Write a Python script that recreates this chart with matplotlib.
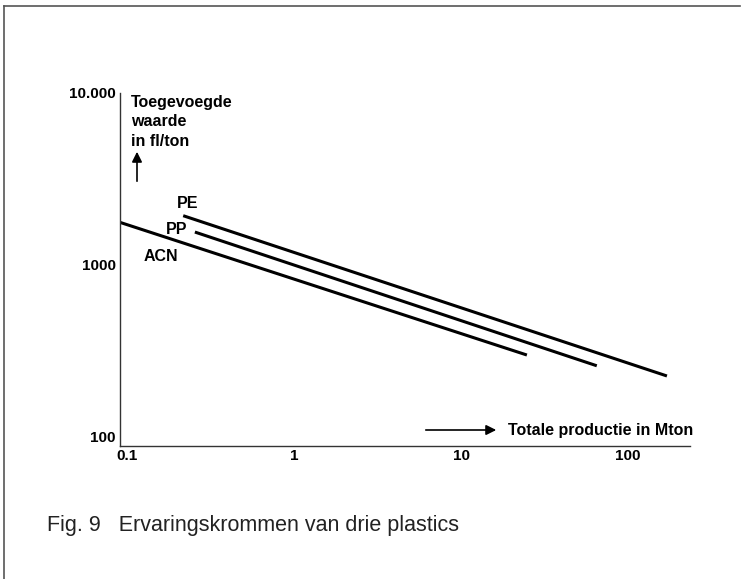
import matplotlib
matplotlib.use("Agg")
import matplotlib.pyplot as plt
from matplotlib.lines import Line2D
from matplotlib.patches import FancyArrowPatch
from matplotlib.ticker import FixedLocator, FixedFormatter, NullLocator

plt.rcParams['font.family'] = ['Liberation Sans', 'DejaVu Sans']

# Data (log-log experience curves)
series_names = ["PE", "PP", "ACN"]
pe_x = [0.217, 171]
pe_y = [1930, 225]
pp_x = [0.255, 65]
pp_y = [1550, 258]
acn_x = [0.0908, 24.8]
acn_y = [1765, 298]

x_ticks = [0.1, 1, 10, 100]
x_tick_labels = ["0.1", "1", "10", "100"]
y_ticks = [100, 1000, 10000]
y_tick_labels = ["100", "1000", "10.000"]

W, H = 747, 579
fig = plt.figure(figsize=(W / 100, H / 100), dpi=100)

def fx(px):
    return px / W

def fy(py):
    return 1 - py / H

ax = fig.add_axes([fx(120), fy(446), fx(690) - fx(120), fy(93) - fy(446)])
ax.set_xscale('log')
ax.set_yscale('log')
ax.set_xlim(0.0908, 235)
ax.set_ylim(88, 10000)

lw = 2.2
ax.plot(pe_x, pe_y, color='black', lw=lw, solid_capstyle='butt')
ax.plot(pp_x, pp_y, color='black', lw=lw, solid_capstyle='butt')
ax.plot(acn_x, acn_y, color='black', lw=lw, solid_capstyle='butt')

for s in ['top', 'right']:
    ax.spines[s].set_visible(False)
for s in ['left', 'bottom']:
    ax.spines[s].set_color('#333333')
    ax.spines[s].set_linewidth(1.0)

ax.xaxis.set_major_locator(FixedLocator(x_ticks))
ax.xaxis.set_major_formatter(FixedFormatter(x_tick_labels))
ax.xaxis.set_minor_locator(NullLocator())
ax.yaxis.set_major_locator(FixedLocator(y_ticks))
ax.yaxis.set_major_formatter(FixedFormatter(y_tick_labels))
ax.yaxis.set_minor_locator(NullLocator())
ax.tick_params(axis='both', length=0, labelsize=11)
ax.tick_params(axis='x', pad=2)
ax.tick_params(axis='y', pad=3)
for lab in ax.get_xticklabels() + ax.get_yticklabels():
    lab.set_fontweight('bold')

fs = 11.5
# Series labels
fig.text(fx(188), fy(203), "PE", ha='center', va='center', fontsize=fs, fontweight='bold')
fig.text(fx(177), fy(230), "PP", ha='center', va='center', fontsize=fs, fontweight='bold')
fig.text(fx(161), fy(257), "ACN", ha='center', va='center', fontsize=fs, fontweight='bold')

# Y axis label with arrow
fig.text(fx(131), fy(122), "Toegevoegde\nwaarde\nin fl/ton", ha='left', va='center',
         fontsize=fs, fontweight='bold', linespacing=1.4)
fig.add_artist(FancyArrowPatch(
    (fx(137), fy(184)), (fx(137), fy(149)), transform=fig.transFigure,
    arrowstyle='-|>,head_length=4,head_width=2', color='black', lw=1.2,
    mutation_scale=1.5))

# X axis label with arrow
fig.text(fx(508), fy(430), "Totale productie in Mton", ha='left', va='center',
         fontsize=fs, fontweight='bold')
fig.add_artist(FancyArrowPatch(
    (fx(423), fy(430)), (fx(499), fy(430)), transform=fig.transFigure,
    arrowstyle='-|>,head_length=4,head_width=2', color='black', lw=1.2,
    mutation_scale=1.5))

# Caption
fig.text(fx(47), fy(526), "Fig. 9   Ervaringskrommen van drie plastics", ha='left', va='center',
         fontsize=15.5, color='#222222')

# Frame (left and top border)
fig.add_artist(Line2D([fx(4), fx(4)], [fy(6), fy(579)], transform=fig.transFigure, color='#555555', lw=1.2))
fig.add_artist(Line2D([fx(4), fx(740)], [fy(6), fy(6)], transform=fig.transFigure, color='#555555', lw=1.2))

fig.savefig("out.png", dpi=100)
